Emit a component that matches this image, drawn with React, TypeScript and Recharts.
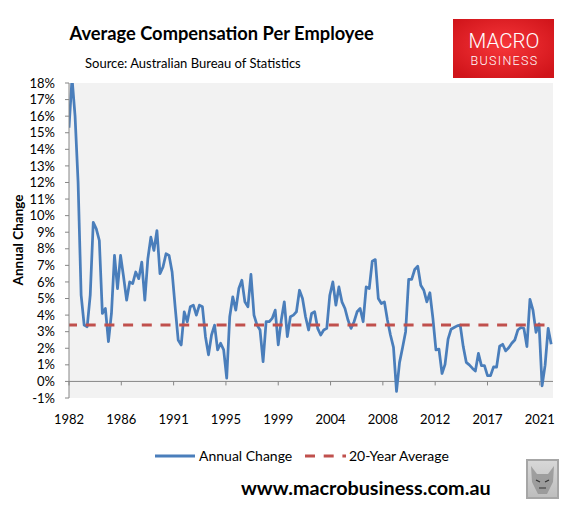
import React from 'react';
import { LineChart, Line, XAxis, YAxis, CartesianGrid, ReferenceLine } from 'recharts';

// Quarterly annual change in average compensation per employee (%), from mid-1982
const annualChange: number[] = [
  15.3, 18.3, 16.0, 12.0, 5.2, 3.4, 3.3, 5.2, 9.6, 9.2,
  8.5, 4.1, 4.4, 2.4, 4.1, 7.6, 5.6, 7.6, 6.3, 4.9,
  6.0, 5.9, 6.6, 6.2, 7.2, 4.9, 7.4, 8.7, 7.9, 9.1,
  6.5, 6.9, 7.7, 7.6, 6.6, 4.5, 2.5, 2.2, 4.2, 3.6,
  4.5, 4.6, 4.0, 4.6, 4.5, 2.7, 1.6, 2.8, 3.4, 1.9,
  2.3, 1.9, 0.2, 3.9, 5.1, 4.3, 5.6, 6.1, 4.8, 4.5,
  6.45, 4.0, 3.4, 3.1, 1.2, 3.6, 3.6, 3.8, 4.3, 2.2,
  3.7, 4.8, 2.7, 3.9, 4.0, 4.2, 5.5, 5.0, 3.9, 3.1,
  4.1, 4.2, 3.2, 2.8, 3.1, 3.2, 5.2, 6.0, 4.6, 5.7,
  4.8, 4.4, 3.7, 3.2, 3.6, 4.2, 4.4, 3.6, 5.7, 5.6,
  7.25, 7.35, 5.0, 4.7, 4.8, 3.7, 2.8, 2.05, -0.6, 1.15,
  2.05, 3.0, 6.15, 6.15, 6.75, 6.95, 5.8, 5.5, 4.8, 5.35,
  3.8, 1.9, 1.95, 0.48, 1.03, 2.55, 3.15, 3.25, 3.35, 3.4,
  2.1, 1.15, 1.0, 0.8, 0.63, 1.69, 0.95, 0.95, 0.35, 0.35,
  0.88, 0.86, 2.12, 2.24, 1.84, 2.03, 2.3, 2.5, 3.1, 3.25,
  3.2, 2.1, 4.95, 4.3, 2.96, 3.47, -0.27, 0.98, 3.2, 2.24,
];

const xTickLabels: string[] = ['1982', '1986', '1991', '1995', '1999', '2004', '2008', '2012', '2017', '2021'];
const yTickValues: number[] = [-1, 0, 1, 2, 3, 4, 5, 6, 7, 8, 9, 10, 11, 12, 13, 14, 15, 16, 17, 18];
const twentyYearAverage = 3.4;

const TICK_STEP = 17.25; // quarters between labelled ticks
const xTicks = xTickLabels.map((_, k) => k * TICK_STEP);
const data = annualChange.map((v, i) => ({ q: i, v }));

const FONT = 'Lato, "Open Sans", sans-serif';
const BLUE = '#4A7EBB';
const RED = '#C0504D';
const AXIS = '#868686';

const W = 574;
const H = 513;
const PLOT_TOP = 83;
const PLOT_BOTTOM = 398;
const PLOT_LEFT = 69;
const PLOT_RIGHT = 553;
const Y_MIN = -1;
const Y_MAX = 18;
const PLOT_H = PLOT_BOTTOM - PLOT_TOP;
const ZERO_OFFSET = (PLOT_H * (0 - Y_MIN)) / (Y_MAX - Y_MIN);

const X_AXIS_H = 30;
const Y_AXIS_W = 60;

const XTick = (props: any) => {
  const { x, y, payload } = props;
  const idx = Math.round(payload.value / TICK_STEP);
  const label = xTickLabels[idx];
  return (
    <g>
      <line x1={x} x2={x} y1={y - ZERO_OFFSET} y2={y - ZERO_OFFSET + 4} stroke={AXIS} strokeWidth={1} />
      <text x={x} y={y + 25.5} textAnchor="middle" fill="#000" fontSize={13} fontFamily={FONT}>
        {label}
      </text>
    </g>
  );
};

export default function App() {
  return (
    <div style={{ position: 'absolute', left: 0, top: 0, width: W, height: H, background: '#fff', fontFamily: FONT }}>
      <LineChart
        width={W}
        height={H}
        data={data}
        margin={{ top: PLOT_TOP, right: W - PLOT_RIGHT, bottom: H - PLOT_BOTTOM - X_AXIS_H, left: PLOT_LEFT - Y_AXIS_W }}
      >
        <CartesianGrid
          fill="#F2F2F2"
          vertical={false}
          horizontalValues={[0]}
          stroke={AXIS}
          strokeWidth={1}
        />
        <XAxis
          dataKey="q"
          type="number"
          domain={[0, 159.6]}
          ticks={xTicks}
          interval={0}
          axisLine={false}
          tickLine={false}
          tickSize={0}
          tickMargin={0}
          height={X_AXIS_H}
          tick={<XTick />}
          allowDataOverflow
        />
        <YAxis
          type="number"
          domain={[Y_MIN, Y_MAX]}
          ticks={yTickValues}
          interval={0}
          allowDataOverflow
          width={Y_AXIS_W}
          tickFormatter={(v: number) => `${v}%`}
          tick={{ fill: '#000', fontSize: 13, fontFamily: FONT }}
          axisLine={{ stroke: AXIS }}
          tickLine={{ stroke: AXIS }}
          tickSize={4}
          tickMargin={10}
        />
        <Line
          type="linear"
          dataKey="v"
          stroke={BLUE}
          strokeWidth={2.75}
          dot={false}
          activeDot={false}
          strokeLinejoin="round"
          isAnimationActive={false}
        />
        <ReferenceLine
          y={twentyYearAverage}
          stroke={RED}
          strokeWidth={3}
          strokeDasharray="10 8.7"
          strokeDashoffset={2}
        />
      </LineChart>

      <svg width={W} height={H} style={{ position: 'absolute', left: 0, top: 0, pointerEvents: 'none' }}>
        <defs>
          <radialGradient id="logoGrad" cx="50%" cy="45%" r="65%">
            <stop offset="0%" stopColor="#F7363A" />
            <stop offset="100%" stopColor="#D0141A" />
          </radialGradient>
          <linearGradient id="wolfGrad" x1="0" y1="0" x2="0" y2="1">
            <stop offset="0%" stopColor="#d8d8d8" />
            <stop offset="100%" stopColor="#bdbdbd" />
          </linearGradient>
        </defs>

        <text x={69.5} y={39.5} fontFamily={FONT} fontWeight={700} fontSize={18.3} fill="#000">
          Average Compensation Per Employee
        </text>
        <text x={85} y={68} fontFamily={FONT} fontSize={13} fill="#000">
          Source: Australian Bureau of Statistics
        </text>

        <rect x={453} y={19} width={101} height={59} fill="url(#logoGrad)" />
        <text x={504} y={47.5} textAnchor="middle" fontFamily="Roboto, sans-serif" fontWeight={300} fontSize={20.5} fill="#fff">
          MACRO
        </text>
        <text x={504.5} y={64.5} textAnchor="middle" fontFamily="Roboto, sans-serif" fontWeight={300} fontSize={12.5} letterSpacing={1.3} fill="#fff">
          BUSINESS
        </text>

        <text
          x={22.5}
          y={240}
          transform="rotate(-90 22.5 240)"
          textAnchor="middle"
          fontFamily={FONT}
          fontWeight={700}
          fontSize={13.5}
          fill="#000"
        >
          Annual Change
        </text>

        <line x1={155} x2={195} y1={456} y2={456} stroke={BLUE} strokeWidth={3} />
        <text x={199} y={461} fontFamily={FONT} fontSize={14} fill="#000">
          Annual Change
        </text>
        <line x1={305} x2={346} y1={456} y2={456} stroke={RED} strokeWidth={3} strokeDasharray="10 8.7" />
        <text x={349} y={461} fontFamily={FONT} fontSize={14} fill="#000">
          20-Year Average
        </text>

        <text x={241} y={495} fontFamily={FONT} fontWeight={700} fontSize={19.8} fill="#000">
          www.macrobusiness.com.au
        </text>

        <rect x={527} y={460} width={31} height={38} fill="url(#wolfGrad)" stroke="#a6a6a6" strokeWidth={2} />
        <path d="M531 466 L537 474 L548 474 L554 466 L553 482 L547 494 L538 494 L532 482 Z" fill="#8a8a8a" opacity={0.7} />
        <path d="M536 480 L540 482 M545 482 L549 480 M539 488 L546 488" stroke="#333" strokeWidth={1.2} />
      </svg>
    </div>
  );
}
